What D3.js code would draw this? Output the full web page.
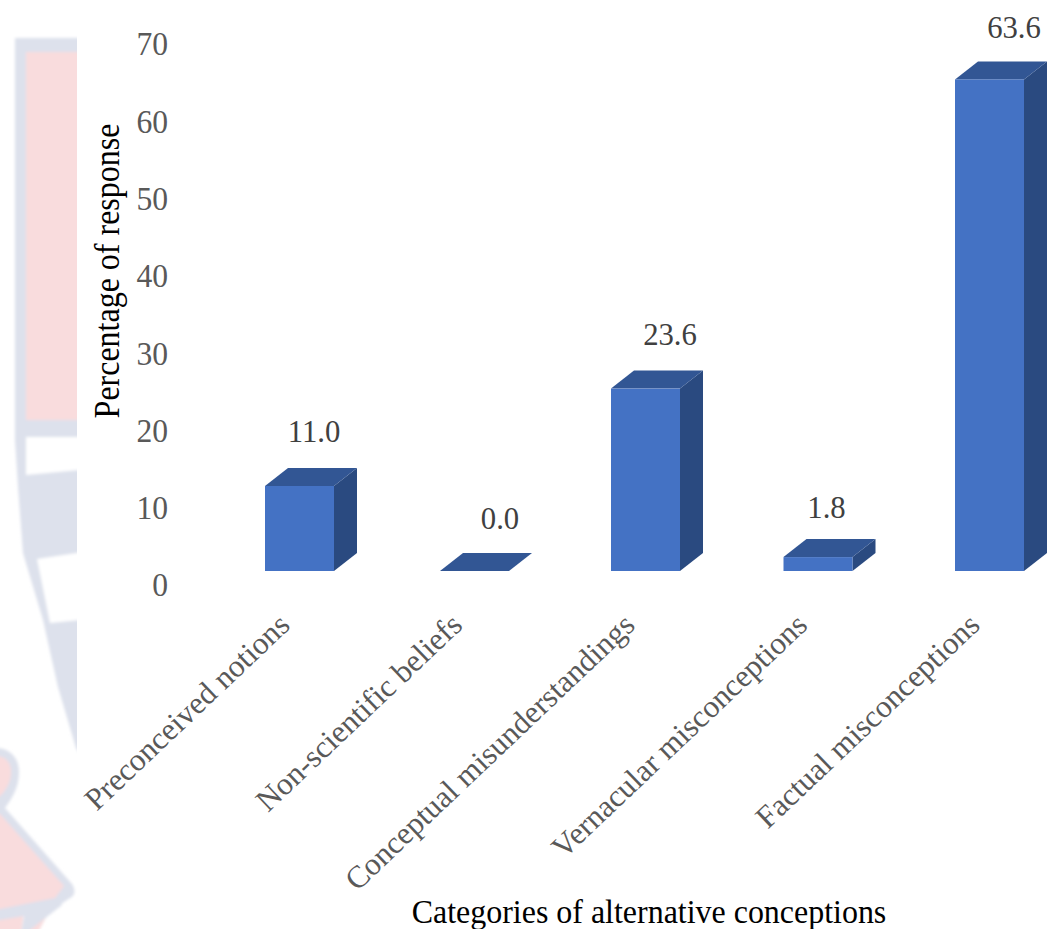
<!DOCTYPE html>
<html>
<head>
<meta charset="utf-8">
<script src="https://cdnjs.cloudflare.com/ajax/libs/d3/7.8.5/d3.min.js"></script>
<style>
  html, body { margin: 0; padding: 0; background: #fff; }
  svg { display: block; }
  text { font-family: "Liberation Serif", serif; }
</style>
</head>
<body>
<svg id="chart" width="1048" height="929"></svg>
<script>
const categories = [
  "Preconceived notions",
  "Non-scientific beliefs",
  "Conceptual misunderstandings",
  "Vernacular misconceptions",
  "Factual misconceptions"
];
const responseValues = [11.0, 0.0, 23.6, 1.8, 63.6];
const yTicks = [0, 10, 20, 30, 40, 50, 60, 70];

// Hand placement of bars and value labels, in pixels
const barNudge = [0, 2.5, 1, 1, 0];
const labelDx = [14.5, 25.5, 24.5, 8.5, 24.5];
const labelDy = [-44, -42, -44, -39, -41];

const svg = d3.select("#chart");
const defs = svg.append("defs");
defs.append("filter").attr("id", "soft")
  .attr("x", "-10%").attr("y", "-10%").attr("width", "120%").attr("height", "120%")
  .append("feGaussianBlur").attr("stdDeviation", 1.6);

// Faint crest printed behind the page, cut off by the white plot panel
const crest = svg.append("g").attr("filter", "url(#soft)");
const crestBlue = "#dde1ec", crestPink = "#f9dcdd";
crest.append("path").attr("fill", crestBlue)
  .attr("d", "M15,38 H90 V770 L76,748 L58,687 L43,620 L23,553 L18,487 L15,440 Z");
crest.append("path").attr("fill", crestPink)
  .attr("d", "M26,52 H90 V420 H26 Z");
crest.append("path").attr("fill", "#fff")
  .attr("d", "M26,437 H90 V469 L26,475 Z");
crest.append("path").attr("fill", "#fff")
  .attr("d", "M37,559 L90,551 V619 L50,623 Z");
crest.append("path").attr("fill", crestBlue)
  .attr("d", "M-10,748 C8,746 19,756 19,772 C19,788 12,798 5,808 L72,884 C76,890 75,896 70,898 L58,906 L-10,920 Z");
crest.append("path").attr("fill", crestPink)
  .attr("d", "M-10,756 C5,754 11,762 11,772 C11,782 6,790 0,796 L-10,800 Z");
crest.append("path").attr("fill", crestPink)
  .attr("d", "M-10,814 L0,814 L64,886 L55,898 L-10,911 Z");
crest.append("path").attr("fill", crestPink)
  .attr("d", "M-10,918 L24,912 L20,940 H-10 Z M30,910 L52,906 L34,940 H26 Z");
crest.append("path").attr("fill", crestBlue)
  .attr("d", "M-10,912 L60,900 L62,905 L30,930 L26,940 L20,940 L24,916 L-10,922 Z");
svg.append("rect").attr("x", 77).attr("y", 0).attr("width", 971).attr("height", 929).attr("fill", "#fff");

// Value scale for the bars; the axis labels sit lower because of the 3D floor
const y = d3.scaleLinear().domain([0, 70]).range([571, 571 - 541]);
const yLabel = d3.scaleLinear().domain([0, 70]).range([585, 44]);
const x = d3.scalePoint().domain(categories).range([299.5, 989.5]);
const barW = 69, depthX = 23, depthY = 18;

const axis = d3.axisLeft(yLabel).tickValues(yTicks).tickSize(0).tickPadding(0);
const axisG = svg.append("g").attr("transform", "translate(168,0)").call(axis);
axisG.select(".domain").remove();
axisG.selectAll("text")
  .attr("font-size", 34).attr("fill", "#595959").attr("font-family", "Liberation Serif")
  .attr("transform", "scale(0.93,1)");

// Each bar is a front face, a lit top and a shaded side
const bars = svg.append("g").selectAll("g")
  .data(categories.map((c, i) => ({ c, v: responseValues[i], cx: x(c) + barNudge[i], i })))
  .join("g");

const poly = pts => d3.line()(pts) + "Z";
bars.append("path").attr("fill", "#2a4a80").attr("d", d => {
  const r = d.cx + barW / 2, t = y(d.v), b = y(0);
  return poly([[r, t], [r + depthX, t - depthY], [r + depthX, b - depthY], [r, b]]);
});
bars.append("path").attr("fill", "#325694").attr("d", d => {
  const l = d.cx - barW / 2, r = l + barW, t = y(d.v);
  return poly([[l, t], [l + depthX, t - depthY], [r + depthX, t - depthY], [r, t]]);
});
bars.append("rect").attr("fill", "#4472c4")
  .attr("x", d => d.cx - barW / 2).attr("width", barW)
  .attr("y", d => y(d.v)).attr("height", d => y(0) - y(d.v));

// Value labels above the bars
bars.append("text")
  .attr("transform", d => `translate(${d.cx + labelDx[d.i]},${y(d.v) + labelDy[d.i]}) scale(0.96,1)`)
  .attr("text-anchor", "middle").attr("font-size", 32).attr("fill", "#404040")
  .text(d => d.v.toFixed(1));

// Slanted category labels, ending under their bars
svg.append("g").selectAll("text").data(categories).join("text")
  .attr("transform", d => `translate(${x(d) - 8},627) rotate(-43.5)`)
  .attr("text-anchor", "end").attr("font-size", 31.3).attr("fill", "#595959")
  .text(d => d);

svg.append("text")
  .attr("transform", "translate(119,271) rotate(-90) scale(0.914,1)")
  .attr("text-anchor", "middle").attr("font-size", 35).attr("fill", "#000")
  .text("Percentage of response");

svg.append("text")
  .attr("transform", "translate(649,923) scale(0.94,1)")
  .attr("text-anchor", "middle").attr("font-size", 34).attr("fill", "#000")
  .text("Categories of alternative conceptions");
</script>
</body>
</html>
